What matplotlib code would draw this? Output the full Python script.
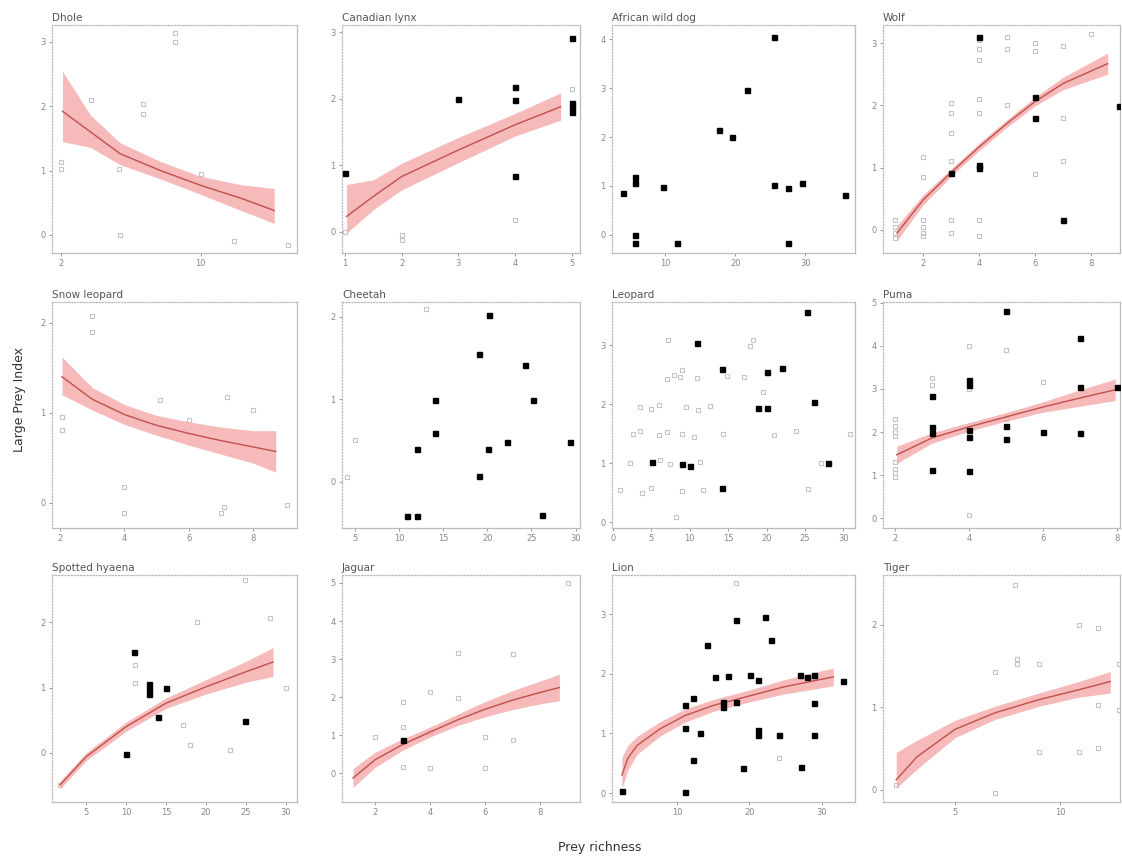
import matplotlib
matplotlib.use("Agg")
import matplotlib.pyplot as plt

# ---------------------------------------------------------------------------
# Data (x = prey richness, y = large prey index)
# gray = other records, black = highlighted records, fit = model curve + CI
# ---------------------------------------------------------------------------

# Dhole
dhole_gray_x = [8.5, 8.5, 6.7, 6.7, 2.0, 2.0, 5.3, 5.4, 11.9, 15.0, 10.0, 3.7]
dhole_gray_y = [3.14, 3.0, 2.03, 1.88, 1.14, 1.03, 1.03, 0.0, -0.09, -0.15, 0.95, 2.1]
dhole_black_x = []
dhole_black_y = []
dhole_fit_x = [2.1, 3.7, 5.4, 7.7, 10.0, 12.3, 14.2]
dhole_fit_y = [1.92, 1.6, 1.26, 1.0, 0.77, 0.57, 0.38]
dhole_fit_lo = [1.45, 1.36, 1.09, 0.87, 0.63, 0.38, 0.18]
dhole_fit_hi = [2.54, 1.86, 1.43, 1.14, 0.91, 0.78, 0.72]

# Canadian lynx
lynx_gray_x = [4, 2, 2, 1, 5]
lynx_gray_y = [0.18, -0.05, -0.12, 0.0, 2.14]
lynx_black_x = [5, 3, 4, 4, 5, 5, 5, 1, 4]
lynx_black_y = [2.92, 2.0, 2.18, 1.98, 1.94, 1.88, 1.8, 0.89, 0.84]
lynx_fit_x = [1.03, 1.5, 2, 3, 4, 4.8]
lynx_fit_y = [0.23, 0.53, 0.83, 1.23, 1.61, 1.88]
lynx_fit_lo = [-0.02, 0.33, 0.63, 1.04, 1.44, 1.68]
lynx_fit_hi = [0.71, 0.78, 1.03, 1.42, 1.78, 2.09]

# African wild dog
wdog_gray_x = []
wdog_gray_y = []
wdog_black_x = [3.9, 5.7, 5.7, 5.7, 5.7, 9.7, 11.7, 17.7, 19.6, 21.7, 25.6, 25.6,
                27.6, 27.6, 29.6, 35.7]
wdog_black_y = [0.86, 1.18, 1.06, 0.0, -0.16, 0.98, -0.16, 2.14, 2.0, 2.96, 4.04, 1.02,
                0.96, -0.16, 1.06, 0.82]

# Wolf
wolf_gray_x = [1, 1, 1, 1, 2, 2, 2, 2, 2, 2, 3, 3, 3, 3, 3, 3,
               4, 4, 4, 4, 4, 4, 4, 5, 5, 5, 6, 6, 6, 7, 7, 7, 8]
wolf_gray_y = [0.16, 0.05, -0.05, -0.13, 1.17, 0.85, 0.16, 0.05, -0.05, -0.1,
               2.04, 1.88, 1.55, 1.1, 0.16, -0.05,
               3.05, 2.9, 2.73, 2.1, 1.88, 0.16, -0.1, 3.1, 2.9, 2.0,
               3.0, 2.88, 0.9, 2.95, 1.8, 1.1, 3.15]
wolf_black_x = [4, 6, 6, 3, 4, 4, 7, 9]
wolf_black_y = [3.1, 2.13, 1.8, 0.91, 1.0, 1.05, 0.16, 1.99]
wolf_fit_x = [1.07, 2, 3, 4, 5, 6, 7, 8.6]
wolf_fit_y = [-0.05, 0.48, 0.92, 1.33, 1.71, 2.06, 2.35, 2.67]
wolf_fit_lo = [-0.17, 0.40, 0.86, 1.27, 1.65, 1.99, 2.25, 2.50]
wolf_fit_hi = [0.07, 0.56, 0.98, 1.39, 1.77, 2.13, 2.45, 2.84]

# Snow leopard
sleo_gray_x = [3, 3, 2.06, 2.06, 4, 4, 5.1, 7.2, 8, 7, 7.1, 9.05, 6]
sleo_gray_y = [2.07, 1.9, 0.81, 0.95, 0.17, -0.11, 1.14, 1.18, 1.03, -0.11, -0.05, -0.02, 0.92]
sleo_black_x = []
sleo_black_y = []
sleo_fit_x = [2.06, 3, 4, 5, 6, 7, 8, 8.7]
sleo_fit_y = [1.40, 1.15, 0.98, 0.86, 0.77, 0.69, 0.62, 0.57]
sleo_fit_lo = [1.2, 1.03, 0.87, 0.75, 0.64, 0.54, 0.44, 0.34]
sleo_fit_hi = [1.62, 1.28, 1.09, 0.97, 0.9, 0.84, 0.8, 0.8]

# Cheetah
chee_gray_x = [5, 4.1, 13.1]
chee_gray_y = [0.51, 0.06, 2.1]
chee_black_x = [20.2, 19.1, 24.3, 14.1, 25.2, 14.1, 12.0, 20.1, 22.2, 29.4, 19.1,
                10.9, 12.0, 26.2]
chee_black_y = [2.02, 1.55, 1.42, 0.99, 0.99, 0.59, 0.40, 0.40, 0.48, 0.48, 0.07,
                -0.41, -0.42, -0.40]

# Leopard
leo_gray_x = [7.1, 18.2, 17.8, 7.0, 8.0, 8.7, 10.9, 14.8, 17.0, 9.0, 19.5,
              3.5, 5.0, 6.0, 9.5, 11.0, 12.6,
              2.6, 3.5, 6.0, 7.0, 9.0, 10.5, 14.3, 21.0, 23.8, 30.8,
              2.2, 6.1, 7.4, 11.3, 27.1,
              0.9, 3.8, 5.0, 9.0, 11.7, 25.4, 8.2]
leo_gray_y = [3.08, 3.08, 2.98, 2.42, 2.5, 2.46, 2.44, 2.48, 2.46, 2.58, 2.2,
              1.95, 1.92, 1.98, 1.95, 1.9, 1.97,
              1.5, 1.55, 1.48, 1.52, 1.5, 1.45, 1.5, 1.48, 1.55, 1.5,
              1.0, 1.05, 0.98, 1.02, 1.0,
              0.54, 0.5, 0.58, 0.52, 0.55, 0.56, 0.08]
leo_black_x = [25.3, 10.9, 14.2, 20.1, 22.0, 26.1, 18.9, 20.1, 5.1, 9.0, 10.0, 14.2, 28.0]
leo_black_y = [3.56, 3.03, 2.59, 2.54, 2.61, 2.03, 1.93, 1.93, 1.02, 0.98, 0.95, 0.58, 1.0]

# Puma
puma_gray_x = [2, 2, 2, 2, 2, 2, 2, 2, 3, 3, 4, 4, 4, 5, 6, 5]
puma_gray_y = [2.3, 2.15, 2.0, 1.9, 1.3, 1.15, 1.05, 0.95, 3.25, 3.1, 4.0, 3.0, 0.07, 3.9, 3.15, 2.3]
puma_black_x = [5, 7, 7, 8, 4, 4, 3, 3, 3, 4, 4, 5, 5, 6, 7, 3, 4]
puma_black_y = [4.81, 4.19, 3.05, 3.04, 3.2, 3.1, 2.84, 2.12, 1.97, 2.05, 1.89, 2.15, 1.84,
                2.0, 1.97, 1.12, 1.09]
puma_fit_x = [2.05, 3, 4, 5, 6, 7, 7.95]
puma_fit_y = [1.47, 1.86, 2.12, 2.35, 2.58, 2.79, 2.98]
puma_fit_lo = [1.27, 1.74, 2.02, 2.25, 2.46, 2.6, 2.73]
puma_fit_hi = [1.67, 1.98, 2.22, 2.45, 2.7, 2.98, 3.23]

# Spotted hyaena
hya_gray_x = [1.75, 18.9, 28.0, 24.9, 30.0, 17.1, 18.0, 23.0, 11.1, 11.1]
hya_gray_y = [-0.49, 2.0, 2.06, 2.64, 1.0, 0.43, 0.12, 0.05, 1.07, 1.35]
hya_black_x = [11.0, 12.9, 12.9, 12.9, 15.0, 14.0, 10.0, 24.9]
hya_black_y = [1.54, 1.06, 0.98, 0.9, 0.99, 0.55, -0.02, 0.49]
hya_fit_x = [1.75, 5, 10, 15, 20, 25, 28.4]
hya_fit_y = [-0.49, -0.06, 0.4, 0.76, 1.01, 1.24, 1.39]
hya_fit_lo = [-0.55, -0.12, 0.33, 0.68, 0.9, 1.08, 1.17]
hya_fit_hi = [-0.43, 0.0, 0.47, 0.84, 1.12, 1.4, 1.61]

# Jaguar
jag_gray_x = [3, 3, 2, 3, 4, 4, 4, 5, 5, 6, 6, 7, 7, 9]
jag_gray_y = [1.21, 1.87, 0.95, 0.16, 0.13, 1.08, 2.13, 3.16, 1.97, 0.95, 0.13, 3.13, 0.87, 5.0]
jag_black_x = [3]
jag_black_y = [0.87]
jag_fit_x = [1.2, 2, 3, 4, 5, 6, 7, 8, 8.7]
jag_fit_y = [-0.13, 0.35, 0.75, 1.08, 1.4, 1.68, 1.92, 2.12, 2.25]
jag_fit_lo = [-0.38, 0.15, 0.6, 0.95, 1.25, 1.48, 1.67, 1.82, 1.9]
jag_fit_hi = [0.12, 0.55, 0.9, 1.21, 1.55, 1.88, 2.17, 2.42, 2.6]

# Lion
lion_gray_x = [18.1, 24.1]
lion_gray_y = [3.53, 0.59]
lion_black_x = [2.4, 11.1, 11.1, 11.1, 12.2, 13.2, 12.2, 14.1, 15.2, 17.0, 18.1, 16.3,
                16.3, 18.1, 19.1, 20.1, 21.2, 22.1, 23.0, 21.2, 21.2, 24.1, 27.0, 28.0,
                29.0, 29.0, 29.0, 27.1, 33.0]
lion_black_y = [0.03, 0.02, 1.09, 1.48, 1.6, 1.01, 0.55, 2.49, 1.95, 1.97, 2.91, 1.53,
                1.45, 1.53, 0.42, 1.98, 1.9, 2.96, 2.57, 1.06, 0.97, 0.97, 1.98, 1.95,
                1.98, 1.51, 0.97, 0.44, 1.88]
lion_fit_x = [2.4, 3.2, 4.5, 7.7, 11.1, 15, 19.7, 24.7, 31.6]
lion_fit_y = [0.3, 0.58, 0.8, 1.08, 1.3, 1.47, 1.62, 1.78, 1.95]
lion_fit_lo = [0.08, 0.38, 0.65, 0.96, 1.19, 1.37, 1.52, 1.66, 1.8]
lion_fit_hi = [0.6, 0.8, 0.95, 1.2, 1.41, 1.57, 1.72, 1.9, 2.1]

# Tiger
tig_gray_x = [7.86, 10.9, 11.8, 7.95, 7.95, 9.0, 6.9, 12.8, 11.8, 12.8, 9.0, 10.9, 11.8, 6.9, 2.2]
tig_gray_y = [2.48, 2.0, 1.96, 1.58, 1.52, 1.52, 1.42, 1.52, 1.03, 0.97, 0.46, 0.46, 0.51, -0.04, 0.06]
tig_black_x = []
tig_black_y = []
tig_fit_x = [2.2, 3.2, 5, 6.9, 9, 10.9, 12.4]
tig_fit_y = [0.12, 0.4, 0.73, 0.93, 1.09, 1.21, 1.31]
tig_fit_lo = [0.02, 0.25, 0.63, 0.85, 1.01, 1.12, 1.17]
tig_fit_hi = [0.45, 0.6, 0.84, 1.01, 1.17, 1.31, 1.43]

# Axis settings per panel: title, xlim, ylim, xticks, yticks
titles = ["Dhole", "Canadian lynx", "African wild dog", "Wolf",
          "Snow leopard", "Cheetah", "Leopard", "Puma",
          "Spotted hyaena", "Jaguar", "Lion", "Tiger"]
xlims = [(1.5, 15.5), (0.95, 5.14), (2.4, 37.1), (0.57, 9.04),
         (1.75, 9.36), (3.53, 30.5), (-0.13, 31.5), (1.68, 8.08),
         (0.75, 31.4), (0.8, 9.45), (1.03, 34.6), (1.57, 12.86)]
ylims = [(-0.28, 3.26), (-0.32, 3.11), (-0.37, 4.29), (-0.37, 3.29),
         (-0.28, 2.23), (-0.56, 2.18), (-0.1, 3.73), (-0.23, 5.02),
         (-0.75, 2.72), (-0.76, 5.21), (-0.15, 3.66), (-0.15, 2.6)]
xticks = [[2, 10], [1, 2, 3, 4, 5], [10, 20, 30], [2, 4, 6, 8],
          [2, 4, 6, 8], [5, 10, 15, 20, 25, 30], [0, 5, 10, 15, 20, 25, 30], [2, 4, 6, 8],
          [5, 10, 15, 20, 25, 30], [2, 4, 6, 8], [10, 20, 30], [5, 10]]
yticks = [[0, 1, 2, 3], [0, 1, 2, 3], [0, 1, 2, 3, 4], [0, 1, 2, 3],
          [0, 1, 2], [0, 1, 2], [0, 1, 2, 3], [0, 1, 2, 3, 4, 5],
          [0, 1, 2], [0, 1, 2, 3, 4, 5], [0, 1, 2, 3], [0, 1, 2]]

points = [
    (dhole_gray_x, dhole_gray_y, dhole_black_x, dhole_black_y),
    (lynx_gray_x, lynx_gray_y, lynx_black_x, lynx_black_y),
    (wdog_gray_x, wdog_gray_y, wdog_black_x, wdog_black_y),
    (wolf_gray_x, wolf_gray_y, wolf_black_x, wolf_black_y),
    (sleo_gray_x, sleo_gray_y, sleo_black_x, sleo_black_y),
    (chee_gray_x, chee_gray_y, chee_black_x, chee_black_y),
    (leo_gray_x, leo_gray_y, leo_black_x, leo_black_y),
    (puma_gray_x, puma_gray_y, puma_black_x, puma_black_y),
    (hya_gray_x, hya_gray_y, hya_black_x, hya_black_y),
    (jag_gray_x, jag_gray_y, jag_black_x, jag_black_y),
    (lion_gray_x, lion_gray_y, lion_black_x, lion_black_y),
    (tig_gray_x, tig_gray_y, tig_black_x, tig_black_y),
]
fits = [
    (dhole_fit_x, dhole_fit_y, dhole_fit_lo, dhole_fit_hi),
    (lynx_fit_x, lynx_fit_y, lynx_fit_lo, lynx_fit_hi),
    None,
    (wolf_fit_x, wolf_fit_y, wolf_fit_lo, wolf_fit_hi),
    (sleo_fit_x, sleo_fit_y, sleo_fit_lo, sleo_fit_hi),
    None,
    None,
    (puma_fit_x, puma_fit_y, puma_fit_lo, puma_fit_hi),
    (hya_fit_x, hya_fit_y, hya_fit_lo, hya_fit_hi),
    (jag_fit_x, jag_fit_y, jag_fit_lo, jag_fit_hi),
    (lion_fit_x, lion_fit_y, lion_fit_lo, lion_fit_hi),
    (tig_fit_x, tig_fit_y, tig_fit_lo, tig_fit_hi),
]

# panel boxes in pixels (left, top, width, height)
W, H = 1122, 858
col_left = [52, 342, 612, 883]
col_width = [245, 238, 243, 237]
row_top = [25, 302, 575]
row_height = [228, 226, 227]

fig = plt.figure(figsize=(W / 100, H / 100), dpi=100)
fig.patch.set_facecolor("white")

for i in range(12):
    r, c = divmod(i, 4)
    l, t, w, h = col_left[c], row_top[r], col_width[c], row_height[r]
    ax = fig.add_axes([l / W, 1 - (t + h) / H, w / W, h / H])

    gx, gy, bx, by = points[i]
    if gx:
        ax.plot(gx, gy, "s", ms=3.2, mfc="none", mec="#c4c4c4", mew=0.8, zorder=2)
    fit = fits[i]
    if fit is not None:
        fx, fy, flo, fhi = fit
        ax.fill_between(fx, flo, fhi, color="#f4a3a3", alpha=0.75, lw=0, zorder=3)
        ax.plot(fx, fy, color="#c0504d", lw=1.0, zorder=4)
    if bx:
        ax.plot(bx, by, "s", ms=3.6, color="black", zorder=5)

    ax.set_xlim(*xlims[i])
    ax.set_ylim(*ylims[i])
    ax.set_xticks(xticks[i])
    ax.set_yticks(yticks[i])
    ax.tick_params(labelsize=6, colors="#888888", length=2.5, width=0.6, pad=2)
    for side in ["top", "left"]:
        ax.spines[side].set_linestyle((0, (1, 1.5)))
    for sp in ax.spines.values():
        sp.set_color("#bbbbbb")
        sp.set_linewidth(0.9)
    ax.set_title(titles[i], loc="left", fontsize=7.5, color="#555555", pad=3)

fig.text(20 / W, 1 - 400 / H, "Large Prey Index", rotation=90,
         ha="center", va="center", fontsize=9, color="#333333")
fig.text(600 / W, 1 - 848 / H, "Prey richness", ha="center", va="center",
         fontsize=9, color="#333333")

fig.savefig("out.png", dpi=100)
